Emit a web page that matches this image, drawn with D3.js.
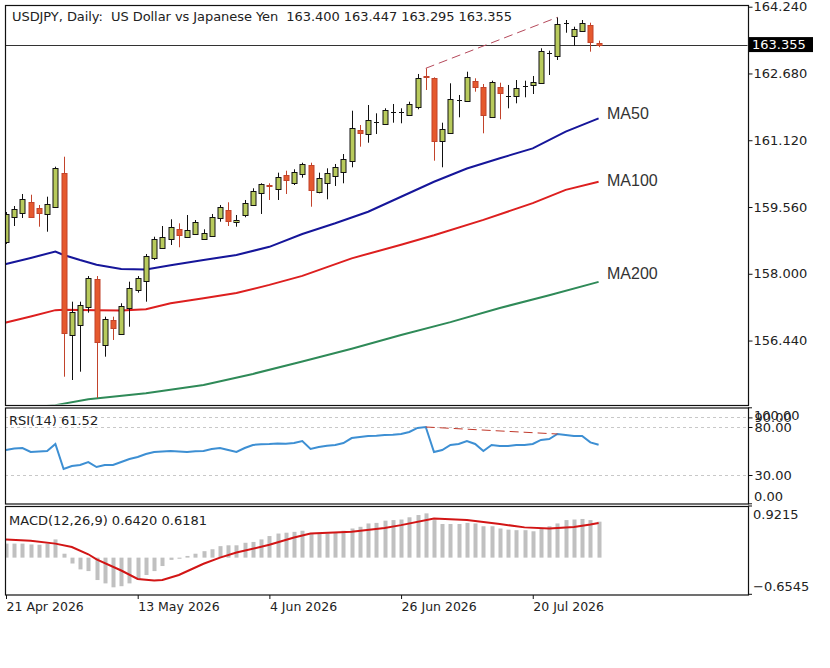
<!DOCTYPE html>
<html><head><meta charset="utf-8">
<script src="https://cdn.jsdelivr.net/npm/d3@7"></script>
<style>body{margin:0;background:#fff}svg{display:block}</style>
</head><body><svg id="c" width="830" height="668"></svg>
<script>
// ---------- DATA ----------
const tickIdx = [0, 16, 32, 48, 64];
const tickLabels = ["21 Apr 2026", "13 May 2026", "4 Jun 2026", "26 Jun 2026", "20 Jul 2026"];
const priceTicks = [164.240, 162.680, 161.120, 159.560, 158.000, 156.440];
const lastPrice = 163.355;

const open = [158.742,159.327,159.427,159.684,159.530,159.390,159.553,160.362,156.570,156.803,
157.217,157.871,156.329,156.920,156.593,157.193,157.621,157.838,158.362,158.595,
158.812,159.046,158.852,158.922,158.812,158.883,159.296,159.490,159.203,159.373,
159.607,159.880,160.081,159.981,160.308,160.114,160.331,160.541,159.918,160.128,
160.291,160.371,160.635,161.359,161.259,161.555,161.499,161.790,161.775,161.710,
161.903,162.621,162.567,161.109,161.282,162.060,162.044,162.511,162.371,161.670,
162.357,162.154,162.154,162.387,162.411,162.464,163.152,163.088,163.852,163.555,
163.672,163.812,163.400];
const high = [159.443,159.583,159.864,159.847,159.607,159.801,160.502,160.735,157.348,157.348,
157.947,157.947,156.997,156.997,157.310,157.815,157.947,158.462,158.866,159.116,
159.273,159.179,159.373,159.256,159.039,159.397,159.607,159.670,159.373,159.724,
159.997,160.114,160.114,160.362,160.408,160.441,160.595,160.595,160.362,160.464,
160.565,160.798,161.810,161.476,161.943,161.749,161.866,161.967,161.866,162.020,
162.668,162.801,162.590,161.530,162.450,162.177,162.721,162.567,162.434,162.511,
162.464,162.411,162.527,162.511,162.621,163.268,163.212,163.992,163.929,163.773,
163.929,163.866,163.447];
const low = [158.696,159.116,159.303,159.326,159.100,158.983,159.537,155.595,155.518,155.712,
157.091,155.098,156.063,156.453,156.570,156.763,157.558,157.348,158.322,158.595,
158.672,158.619,158.852,158.906,158.789,158.866,159.217,159.116,159.100,159.320,
159.583,159.397,159.724,159.724,159.864,160.074,160.245,159.567,159.880,159.740,
160.051,160.114,160.488,160.969,161.062,161.266,161.476,161.530,161.516,161.686,
161.843,162.294,160.642,160.488,161.266,161.656,162.044,162.254,161.282,161.656,
161.609,161.866,161.983,162.123,162.200,162.434,162.644,162.995,163.632,163.322,
163.656,163.189,163.295];
const close = [159.397,159.513,159.740,159.333,159.413,159.623,160.464,156.623,157.100,157.271,
157.908,156.413,156.936,156.726,157.254,157.661,157.894,158.415,158.819,158.859,
159.100,158.906,159.023,159.203,158.946,159.320,159.567,159.240,159.256,159.661,
159.934,160.091,160.051,160.254,160.191,160.371,160.565,159.957,160.231,160.362,
160.488,160.675,161.399,161.282,161.593,161.555,161.827,161.790,161.775,161.967,
162.567,162.590,161.109,161.375,162.077,162.060,162.604,162.371,161.703,162.474,
162.231,162.154,162.333,162.387,162.488,163.212,163.152,163.836,163.852,163.712,
163.852,163.408,163.355];

// moving averages (bar index, value)
const ma50Idx = [-1,0,3,6,7,9,11,14,17,20,24,28,32,36,40,44,48,52,56,60,64,68,72];
const ma50Val = [158.20,158.23,158.37,158.52,158.44,158.32,158.21,158.11,158.10,158.20,158.32,158.44,158.63,158.93,159.18,159.45,159.80,160.15,160.46,160.70,160.93,161.32,161.63];
const ma100Idx = [-1,0,3,6,7,11,14,17,20,24,28,32,36,42,48,52,58,64,68,72];
const ma100Val = [156.82,156.86,157.00,157.15,157.16,157.15,157.14,157.17,157.31,157.43,157.55,157.74,157.95,158.36,158.68,158.90,159.26,159.65,159.96,160.15];
const ma200Idx = [-1,6,10,17,24,30,36,42,48,54,60,66,72];
const ma200Val = [154.80,154.93,155.07,155.21,155.40,155.66,155.95,156.25,156.57,156.87,157.20,157.50,157.81];
const maNames = ["MA50", "MA100", "MA200"];

// trend lines
const trendIdx = [51, 67];
const trendPrice = [162.801, 163.992];
const trendRsi = [80.0, 72.7];

// RSI(14)
const rsi = [56.0,57.5,58.1,54.0,54.5,55.0,62.3,36.3,39.4,40.4,
43.5,38.3,40.4,40.4,43.5,46.7,48.8,51.9,54.0,54.6,
55.0,54.6,54.0,54.8,55.0,57.1,58.1,56.0,54.0,58.1,
61.3,62.0,62.3,62.8,62.5,63.3,65.4,57.1,59.2,60.4,
61.3,63.3,68.5,69.6,70.6,71.0,71.7,72.0,72.7,74.8,
79.0,80.0,54.0,56.0,61.3,62.3,65.4,62.3,55.0,61.3,
60.2,60.2,61.3,61.3,62.3,66.5,67.5,72.7,71.7,70.6,
70.6,64.0,61.52];
const rsiLevels = [90, 80, 30];

// MACD histogram (main) and signal
const macd = [0.25,0.25,0.25,0.235,0.23,0.25,0.325,0.07,-0.105,-0.21,
-0.24,-0.40,-0.46,-0.53,-0.51,-0.46,-0.39,-0.31,-0.24,-0.15,
-0.04,-0.02,0.03,0.07,0.115,0.15,0.205,0.22,0.22,0.265,
0.28,0.325,0.385,0.43,0.445,0.46,0.48,0.43,0.43,0.43,
0.455,0.48,0.52,0.55,0.61,0.62,0.66,0.67,0.68,0.72,
0.76,0.79,0.67,0.60,0.60,0.60,0.62,0.61,0.56,0.56,
0.52,0.50,0.49,0.49,0.47,0.52,0.56,0.61,0.67,0.68,
0.69,0.67,0.642];
const sigIdx = [0,3,6,8,10,11,14,16,18,19,21,24,26,28,32,35,37,42,46,48,52,56,60,63,66,69,71,72];
const sigVal = [0.325,0.30,0.25,0.19,0.06,-0.03,-0.23,-0.38,-0.41,-0.40,-0.31,-0.11,0.0,0.09,0.23,0.36,0.43,0.46,0.53,0.58,0.70,0.67,0.60,0.54,0.52,0.545,0.59,0.618];

// ---------- DRAW ----------
const FONT = "DejaVu Sans";
const TXT = "#222";
const svg = d3.select("#c");
svg.append("rect").attr("width",830).attr("height",668).attr("fill","#fff");

const L = 5, R = 748;
const P = {main:[5,405], rsi:[407.5,503.5], macd:[506,594.5]};

const x = d3.scaleLinear().domain([0,72]).range([6,598.6]);
const y = d3.scaleLinear().domain([156.44,164.24]).range([340.54,6.7]);
const yr = d3.scaleLinear().domain([0,100]).range([503.8,407.8]);
const ym = d3.scaleLinear().domain([-0.6545,0.9215]).range([594.3,506]);

const defs = svg.append("defs");
Object.entries(P).forEach(([k,[t,b]])=>{
  defs.append("clipPath").attr("id","clip-"+k).append("rect")
    .attr("x",L+0.5).attr("y",t+0.5).attr("width",R-L-1).attr("height",b-t-1);
});

// RSI levels
const gr = svg.append("g").attr("clip-path","url(#clip-rsi)");
gr.selectAll("line.lvl").data(rsiLevels).join("line")
  .attr("x1",L).attr("x2",R).attr("y1",d=>Math.round(yr(d))+0.5).attr("y2",d=>Math.round(yr(d))+0.5)
  .attr("stroke","#c8c8c8").attr("stroke-dasharray","3,3");

// Main panel
const gm = svg.append("g").attr("clip-path","url(#clip-main)");
gm.append("line").attr("x1",L).attr("x2",R)
  .attr("y1",Math.round(y(lastPrice))+0.5).attr("y2",Math.round(y(lastPrice))+0.5)
  .attr("stroke","#333").attr("stroke-width",1);

// MAs
const maLine = (idx,val,ys)=>d3.line().x((d,i)=>x(idx[i])).y((d,i)=>ys(val[i]))(val);
[[ma200Idx,ma200Val,"#2f8a58"],[ma100Idx,ma100Val,"#dd1f1f"],[ma50Idx,ma50Val,"#16169a"]].forEach(([ix,v,c])=>{
  gm.append("path").attr("d",maLine(ix,v,y)).attr("fill","none").attr("stroke",c).attr("stroke-width",2);
});

// candles
const idx = d3.range(open.length);
const BULL_F="#b8ca5c", BULL_S="#111", BEAR_F="#e5592e", BEAR_S="#c2432b";
const cg = gm.append("g");
idx.forEach(i=>{
  const cx = Math.round(x(i))+0.5;
  const bear = close[i] < open[i];
  const doji = Math.abs(close[i]-open[i]) < 0.004;
  const sc = bear ? BEAR_S : BULL_S;
  cg.append("line").attr("x1",cx).attr("x2",cx).attr("y1",y(high[i])).attr("y2",y(low[i]))
    .attr("stroke",sc).attr("stroke-width",1);
  const yt = Math.round(y(Math.max(open[i],close[i])))+0.5;
  const yb = Math.round(y(Math.min(open[i],close[i])))+0.5;
  if (doji || yb-yt < 1) {
    cg.append("line").attr("x1",cx-2.5).attr("x2",cx+2.5).attr("y1",yt).attr("y2",yt)
      .attr("stroke",sc).attr("stroke-width",1);
  } else {
    cg.append("rect").attr("x",cx-2.5).attr("y",yt).attr("width",5).attr("height",yb-yt)
      .attr("fill",bear?BEAR_F:BULL_F).attr("stroke",sc).attr("stroke-width",1);
  }
});

// price trend line
gm.append("line").attr("x1",x(trendIdx[0])).attr("x2",x(trendIdx[1]))
  .attr("y1",y(trendPrice[0])).attr("y2",y(trendPrice[1]))
  .attr("stroke","#b5495b").attr("stroke-width",1).attr("stroke-dasharray","9,5");

// MA labels (text objects placed beside line ends)
const maEnds = [ma50Val[ma50Val.length-1], ma100Val[ma100Val.length-1], ma200Val[ma200Val.length-1]];
const maLabelDy = [0.6, 4.3, -3];
svg.selectAll("text.ma").data(maNames).join("text")
  .attr("x",607).attr("y",(d,i)=>y(maEnds[i])+maLabelDy[i])
  .attr("font-family","Liberation Sans, Arial").attr("font-size",16).attr("fill","#333")
  .text(d=>d);

// RSI line
gr.append("path").attr("d",d3.line().x((d,i)=>x(i)).y(d=>yr(d))(rsi))
  .attr("fill","none").attr("stroke","#3d8fd3").attr("stroke-width",2);
gr.append("line").attr("x1",x(trendIdx[0])).attr("x2",x(trendIdx[1]))
  .attr("y1",yr(trendRsi[0])).attr("y2",yr(trendRsi[1]))
  .attr("stroke","#c0392b").attr("stroke-width",1).attr("stroke-dasharray","9,5");

// MACD
const gc = svg.append("g").attr("clip-path","url(#clip-macd)");
gc.selectAll("rect.h").data(macd).join("rect")
  .attr("x",(d,i)=>Math.round(x(i))-1.5).attr("width",4)
  .attr("y",d=>Math.min(ym(d),ym(0))).attr("height",d=>Math.abs(ym(d)-ym(0)))
  .attr("fill","#c0c0c0");
gc.append("path").attr("d",d3.line().x((d,i)=>x(sigIdx[i])).y(d=>ym(d))(sigVal))
  .attr("fill","none").attr("stroke","#d21515").attr("stroke-width",2);

// panel borders
Object.values(P).forEach(([t,b])=>{
  svg.append("rect").attr("x",L+0.5).attr("y",t+0.5).attr("width",R-L).attr("height",b-t)
    .attr("fill","none").attr("stroke","#111").attr("stroke-width",1.2);
});

// axes
function styleAxis(g){
  g.select(".domain").remove();
  g.selectAll("line").attr("stroke","#111");
  g.selectAll("text").attr("font-family",FONT).attr("font-size",13).attr("fill",TXT);
}
svg.append("g").attr("transform",`translate(${R+0.5},0)`)
  .call(d3.axisRight(y).tickValues(priceTicks).tickFormat(d3.format(".3f")).tickSize(4).tickPadding(1))
  .call(styleAxis);
svg.append("g").attr("transform",`translate(${R+0.5},0)`)
  .call(d3.axisRight(yr).tickValues(rsiLevels).tickFormat(d3.format(".2f")).tickSize(4).tickPadding(2))
  .call(styleAxis);
[[100,416],[0,497]].forEach(([v,yy])=>{
  svg.append("line").attr("x1",R).attr("x2",R+4).attr("y1",yr(v)).attr("y2",yr(v)).attr("stroke","#111");
  svg.append("text").attr("x",R+6).attr("y",yy).attr("dy","0.32em")
    .attr("font-family",FONT).attr("font-size",13).attr("fill",TXT).text(d3.format(".2f")(v));
});
[[0.9215,515],[-0.6545,587]].forEach(([v,yy])=>{
  svg.append("line").attr("x1",R).attr("x2",R+4).attr("y1",ym(v)).attr("y2",ym(v)).attr("stroke","#111");
  svg.append("text").attr("x",R+5).attr("y",yy).attr("dy","0.32em")
    .attr("font-family",FONT).attr("font-size",13).attr("fill",TXT).text(d3.format(".4f")(v));
});

// current price label box
const lp = y(lastPrice);
svg.append("rect").attr("x",R+1).attr("y",lp-7.5).attr("width",64).attr("height",15).attr("fill","#000");
svg.append("text").attr("x",R+4).attr("y",lp).attr("dy","0.35em")
  .attr("font-family",FONT).attr("font-size",13).attr("fill","#fff").text(lastPrice.toFixed(3));

// date axis
const gx = svg.append("g").attr("transform",`translate(0,${P.macd[1]+0.5})`)
  .call(d3.axisBottom(x).tickValues(tickIdx).tickFormat((d,i)=>tickLabels[i]).tickSize(4).tickPadding(3));
styleAxis(gx);
gx.selectAll("text").attr("text-anchor","start").attr("font-size",12.5);

// titles
svg.append("text").attr("x",12).attr("y",21).attr("font-family",FONT).attr("font-size",13).attr("fill",TXT)
  .attr("textLength",500).attr("lengthAdjust","spacing")
  .text("USDJPY, Daily:\u00a0 US Dollar vs Japanese Yen\u00a0 163.400 163.447 163.295 163.355");
svg.append("text").attr("x",9).attr("y",425).attr("font-family",FONT).attr("font-size",13).attr("fill",TXT)
  .text("RSI(14) 61.52");
svg.append("text").attr("x",9).attr("y",525).attr("font-family",FONT).attr("font-size",13).attr("fill",TXT)
  .text("MACD(12,26,9) 0.6420 0.6181");
</script>
</body></html>
